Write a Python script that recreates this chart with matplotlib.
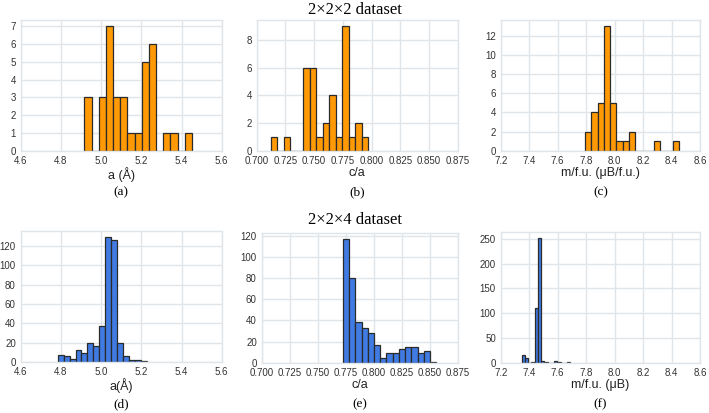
import numpy as np
import matplotlib
matplotlib.use("Agg")
from matplotlib import pyplot as plt

plt.rcParams['font.family'] = ['Liberation Sans', 'DejaVu Sans']

# 2x2x2 dataset (35 structures), 15 bins each
a_222_range = (4.917, 5.452)
a_222 = [3, 0, 3, 7, 3, 3, 1, 1, 5, 6, 0, 1, 1, 0, 1]
ca_222_range = (0.7122, 0.7969)
ca_222 = [1, 0, 1, 0, 0, 6, 6, 1, 2, 4, 1, 9, 1, 2, 1]
m_222_range = (7.7925, 8.453)
m_222 = [2, 4, 5, 13, 5, 1, 1, 2, 0, 0, 0, 1, 0, 0, 1]

# 2x2x4 dataset (400 structures)
a_224_range = (4.784, 5.228)
a_224 = [8, 6, 3, 13, 10, 20, 17, 37, 129, 126, 20, 6, 2, 2, 1]
ca_224_range = (0.7726, 0.8558)
ca_224 = [117, 80, 39, 33, 28, 17, 4, 9, 9, 13, 15, 15, 9, 11, 1]
m_224_range = (7.347, 7.689)
m_224 = [16, 10, 0, 1, 110, 251, 4, 2, 0, 0, 3, 2, 0, 0, 1]

W, H = 709, 413
fig = plt.figure(figsize=(W / 100, H / 100), dpi=100)

orange = '#ff9a05'
blue = '#3f7be3'
gridc = '#dfe5e8'


def panel(box, rng, counts, color, xlim, xticks, fmt, xlabel, letter, ylocs):
    l, t, r, b = box
    ax = fig.add_axes([l / W, 1 - b / H, (r - l) / W, (b - t) / H])
    edges = np.linspace(rng[0], rng[1], len(counts) + 1)
    ax.hist(edges[:-1], bins=edges, weights=counts, color=color,
            edgecolor='#2b2b2b', linewidth=0.9)
    ax.set_xlim(*xlim)
    ax.set_xticks(xticks)
    ax.set_xticklabels([fmt % v for v in xticks])
    ax.set_yticks(ylocs)
    ax.set_axisbelow(True)
    ax.grid(True, color=gridc, linewidth=1.0)
    for s in ax.spines.values():
        s.set_color(gridc)
        s.set_linewidth(1.0)
    ax.tick_params(length=0, labelsize=7, labelcolor='#333333', pad=3.5)
    ax.set_xlabel(xlabel, fontsize=9, labelpad=1, color='#222222')
    cx = (l + r) / 2
    fig.text(cx / W, 1 - (b + 42) / H, letter, ha='center', va='center',
             fontsize=9.5, family='Liberation Serif')
    return ax


a_ticks = [4.6, 4.8, 5.0, 5.2, 5.4, 5.6]
ca_ticks = [0.700, 0.725, 0.750, 0.775, 0.800, 0.825, 0.850, 0.875]
m_ticks = [7.2, 7.4, 7.6, 7.8, 8.0, 8.2, 8.4, 8.6]

panel((20.7, 20, 221.7, 150.7), a_222_range, a_222, orange, (4.6, 5.6), a_ticks, '%.1f',
      'a (Å)', '(a)', range(0, 8))
panel((256.7, 20, 457.7, 150.7), ca_222_range, ca_222, orange, (0.7, 0.875), ca_ticks, '%.3f',
      'c/a', '(b)', range(0, 10, 2))
panel((500.7, 20, 700, 150.7), m_222_range, m_222, orange, (7.2, 8.6), m_ticks, '%.1f',
      'm/f.u. (μB/f.u.)', '(c)', range(0, 14, 2))

panel((20.7, 230.7, 221.7, 362.3), a_224_range, a_224, blue, (4.6, 5.6), a_ticks, '%.1f',
      'a(Å)', '(d)', range(0, 140, 20))
panel((261.7, 233, 457.7, 362.7), ca_224_range, ca_224, blue, (0.7, 0.875), ca_ticks, '%.3f',
      'c/a', '(e)', range(0, 140, 20))
panel((500.7, 232, 700, 362.7), m_224_range, m_224, blue, (7.2, 8.6), m_ticks, '%.1f',
      'm/f.u. (μB)', '(f)', range(0, 300, 50))

fig.text(355 / W, 1 - 10 / H, '2×2×2 dataset', ha='center', va='center',
         fontsize=12, family='Liberation Serif')
fig.text(355 / W, 1 - 220.5 / H, '2×2×4 dataset', ha='center', va='center',
         fontsize=12, family='Liberation Serif')

fig.savefig('out.png', dpi=100)
